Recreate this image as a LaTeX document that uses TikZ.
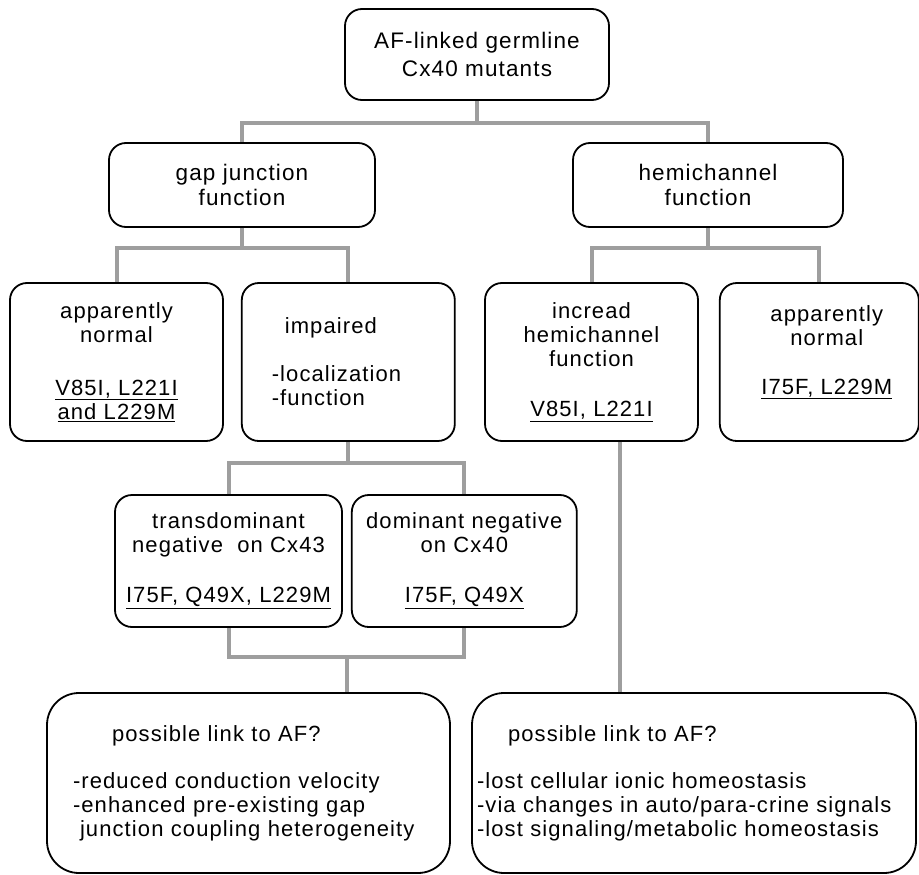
\documentclass[tikz,border=0pt]{standalone}
\usepackage{fontspec}
\setmainfont{Liberation Sans}[LetterSpace=5]
\usetikzlibrary{positioning}
\definecolor{linkgray}{RGB}{158,158,158}

\begin{document}
\begin{tikzpicture}[x=1pt,y=-1pt,
  box/.style={draw,rounded corners=17pt,line width=1.8pt,inner sep=0pt,
    align=center,font=\fontsize{22}{24}\selectfont},
  top box/.style={box,minimum height=84pt,font=\fontsize{22.5}{25.5}\selectfont},
  mid box/.style={box,minimum width=213pt,minimum height=158pt},
  low box/.style={box,minimum height=132pt},
  big box/.style={box,rounded corners=32pt,minimum height=180pt,align=left},
  link/.style={draw=linkgray,line width=4pt}]

  \useasboundingbox (0,0) rectangle (919,875);

  \node[top box,minimum width=264pt,minimum height=91pt] (root) at (477,54.5) {AF-linked germline\\[2pt]Cx40 mutants};
  \node[top box,minimum width=266pt] (gap) at (242,185) {gap junction\\function};
  \node[top box,minimum width=270pt] (hemi) at (708,185) {hemichannel\\function};

  \node[mid box] (normL) at (116.5,362) {apparently\\normal\\[29pt]\underline{V85I, L221I}\\\underline{and L229M}};
  \node[mid box,align=left,text width=153pt] (impaired) [right=17pt of normL] {\hspace*{13pt}impaired\\[24pt]-localization\\-function};
  \node[mid box] (incr) at (591.5,362) {incread\\hemichannel\\function\\[26pt]\underline{V85I, L221I}};
  \node[mid box,minimum width=199pt] (normR) [right=20pt of incr] {\hspace*{15pt}apparently\\\hspace*{15pt}normal\\[25pt]\hspace*{15pt}\underline{I75F, L229M}\\~};

  \node[low box,minimum width=227pt] (trans) at (228.5,561) {transdominant\\negative\ \ on Cx43\\[26pt]\underline{I75F, Q49X, L229M}};
  \node[low box,minimum width=225pt] (dom) [right=8pt of trans] {dominant negative\\on Cx40\\[26pt]\underline{I75F, Q49X}};

  \node[big box,minimum width=403pt,text width=351pt] (linkL) at (248.5,783) {\hspace*{39pt}possible link to AF?\\[23pt]-reduced conduction velocity\\-enhanced pre-existing gap\\\hspace*{7pt}junction coupling heterogeneity};
  \node[big box,minimum width=444pt,text width=434pt] (linkR) at (694,783) {\hspace*{31pt}possible link to AF?\\[23pt]-lost cellular ionic homeostasis\\-via changes in auto/para-crine signals\\-lost signaling/metabolic homeostasis};

  \coordinate (j1) at (477,123);
  \draw[link] (root) -- (j1) -| (gap);
  \draw[link] (j1) -| (hemi);

  \draw[link] (gap.south) -- ++(0,20) coordinate (j2);
  \draw[link] (normL) |- (j2) -| (impaired);

  \draw[link] (hemi.south) -- ++(0,20) coordinate (j3);
  \draw[link] (incr) |- (j3) -| (normR);

  \draw[link] (impaired.south) -- ++(0,21) coordinate (j4);
  \draw[link] (trans) |- (j4) -| (dom);

  \coordinate (j5) at (346.5,657);
  \draw[link] (trans) |- (j5) -| (dom);
  \draw[link] (j5) -- (j5 |- linkL.north);

  \draw[link] ([xshift=28.5pt]incr.south) -- ([xshift=28.5pt]incr.south |- linkR.north);
\end{tikzpicture}
\end{document}
